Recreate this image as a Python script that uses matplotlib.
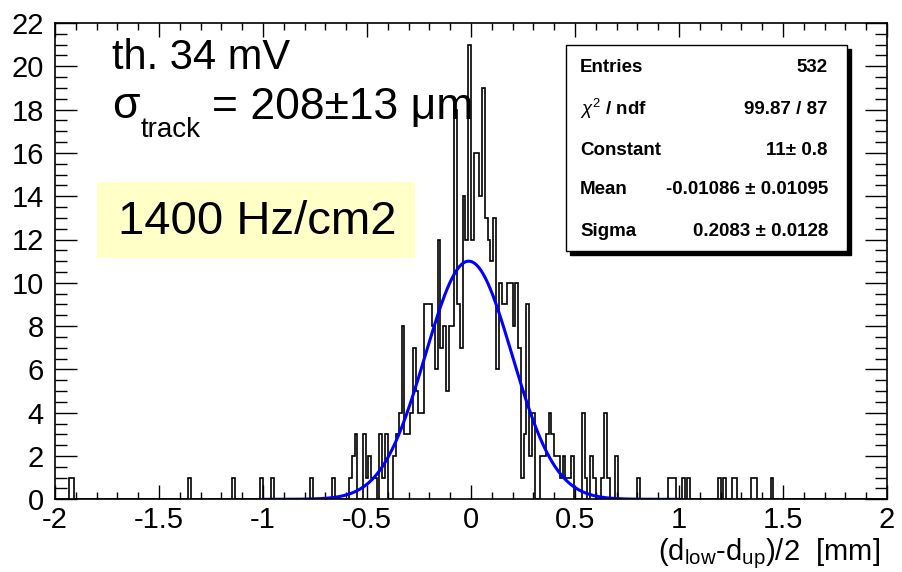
import numpy as np
import matplotlib
matplotlib.use('Agg')
import matplotlib.pyplot as plt
from matplotlib.patches import Rectangle
from matplotlib.ticker import MultipleLocator

plt.rcParams['font.family'] = ['Liberation Sans', 'DejaVu Sans']
plt.rcParams['mathtext.fontset'] = 'custom'
plt.rcParams['mathtext.rm'] = 'Liberation Sans'
plt.rcParams['mathtext.it'] = 'Liberation Sans:italic'
plt.rcParams['mathtext.bf'] = 'Liberation Sans:bold'

# histogram: 300 bins from -2 to 2
n_bins = 300
x_lo, x_hi = -2.0, 2.0
# counts of the bins from x = -0.6667 (bin 100) to x = 0.8133 (bin 210)
first_bin = 100
core_counts = [
    1, 0, 0, 0, 0, 0, 1, 2, 3, 0,
    0, 3, 1, 2, 1, 1, 0, 3, 1, 3,
    0, 0, 2, 3, 4, 8, 3, 3, 4, 7,
    5, 4, 4, 9, 9, 9, 8, 6, 12, 7,
    8, 5, 8, 8, 18, 9, 7, 14, 12, 21,
    12, 16, 16, 14, 19, 13, 12, 11, 13, 6,
    10, 9, 9, 10, 10, 8, 10, 7, 1, 3,
    9, 2, 4, 0, 0, 2, 2, 3, 4, 3,
    2, 2, 1, 2, 1, 1, 2, 0, 0, 0,
    4, 1, 0, 2, 1, 0, 0, 1, 4, 1,
    0, 0, 2, 0, 0, 0, 0, 0, 0, 0, 1,
]
# single entries in the tails (bin centres)
tail_x = [-1.927, -1.913, -1.353, -1.140, -1.007, -0.953, -0.767,
          0.953, 0.967, 0.980, 1.020, 1.047, 1.193, 1.220, 1.260,
          1.273, 1.353, 1.367, 1.447]

# gaussian fit
fit_const, fit_mean, fit_sigma = 11.0, -0.01086, 0.2083
fit_range = (-1.0, 1.0)

stats_names = ['Entries', r'$\chi^{2}$ / ndf', 'Constant', 'Mean', 'Sigma']
stats_values = ['532', '99.87 / 87', '11± 0.8',
                '-0.01086 ± 0.01095', '0.2083 ± 0.0128']

edges = np.linspace(x_lo, x_hi, n_bins + 1)
bw = (x_hi - x_lo) / n_bins
counts = np.zeros(n_bins)
counts[first_bin:first_bin + len(core_counts)] = core_counts
for xv in tail_x:
    counts[int(np.floor((xv - x_lo) / bw))] += 1

W, H = 902, 572
fig = plt.figure(figsize=(W / 100, H / 100), dpi=100)
ax = fig.add_axes([55 / W, (H - 499.3) / H, 832 / W, 476.3 / H])

ax.stairs(counts, edges, color='black', linewidth=1.2)
xf = np.linspace(fit_range[0], fit_range[1], 500)
ax.plot(xf, fit_const * np.exp(-0.5 * ((xf - fit_mean) / fit_sigma) ** 2),
        color='#0000ff', linewidth=2.2)

ax.set_xlim(x_lo, x_hi)
ax.set_ylim(0, 22)
ax.xaxis.set_major_locator(MultipleLocator(0.5))
ax.xaxis.set_minor_locator(MultipleLocator(0.1))
ax.yaxis.set_major_locator(MultipleLocator(2))
ax.yaxis.set_minor_locator(MultipleLocator(0.5))
ax.xaxis.set_major_formatter(plt.FuncFormatter(lambda v, p: '%g' % v))
ax.tick_params(axis='both', which='both', direction='in', top=True, right=True,
               labelsize=21, width=1.0)
ax.tick_params(axis='x', which='major', length=10, pad=5)
ax.tick_params(axis='x', which='minor', length=5)
ax.tick_params(axis='y', which='major', length=16, pad=8)
ax.tick_params(axis='y', which='minor', length=8.5)
for s in ax.spines.values():
    s.set_linewidth(1.2)

fig.text(880 / W, 1 - 554 / H, r'(d$_{\rm low}$-d$_{\rm up}$)/2  [mm]',
         fontsize=21, ha='right', va='center')

# labels on the pad
fig.text(112 / W, 1 - 58 / H, 'th. 34 mV', fontsize=30, va='center')
fig.text(112 / W, 1 - 106 / H, 'σ', fontsize=32, va='center')
fig.text(141 / W, 1 - 130 / H, 'track', fontsize=20, va='center')
fig.text(212 / W, 1 - 108 / H, '= 208±13 μm', fontsize=32, va='center')
fig.patches.append(Rectangle((97 / W, 1 - 258 / H), 318 / W, 76 / H,
                             transform=fig.transFigure, facecolor='#ffffc8',
                             edgecolor='none', zorder=1))
fig.text(118 / W, 1 - 222 / H, '1400 Hz/cm2', fontsize=34, va='center', zorder=2)

# stats box with shadow
bx0, bx1, by0, by1 = 566, 847, 45, 251
fig.patches.append(Rectangle(((bx0 + 4) / W, 1 - (by1 + 4) / H), (bx1 - bx0) / W,
                             (by1 - by0) / H, transform=fig.transFigure,
                             facecolor='black', edgecolor='black', zorder=3))
fig.patches.append(Rectangle((bx0 / W, 1 - by1 / H), (bx1 - bx0) / W,
                             (by1 - by0) / H, transform=fig.transFigure,
                             facecolor='white', edgecolor='black', linewidth=1.0,
                             zorder=4))
row_y = [68, 109, 150, 190, 231]
for name, val, ry in zip(stats_names, stats_values, row_y):
    fig.text(580 / W, 1 - ry / H, name, fontsize=13.5, fontweight='bold',
             va='center', zorder=5)
    fig.text(828 / W, 1 - ry / H, val, fontsize=13.5, fontweight='bold',
             va='center', ha='right', zorder=5)

fig.savefig('out.png', dpi=100)
